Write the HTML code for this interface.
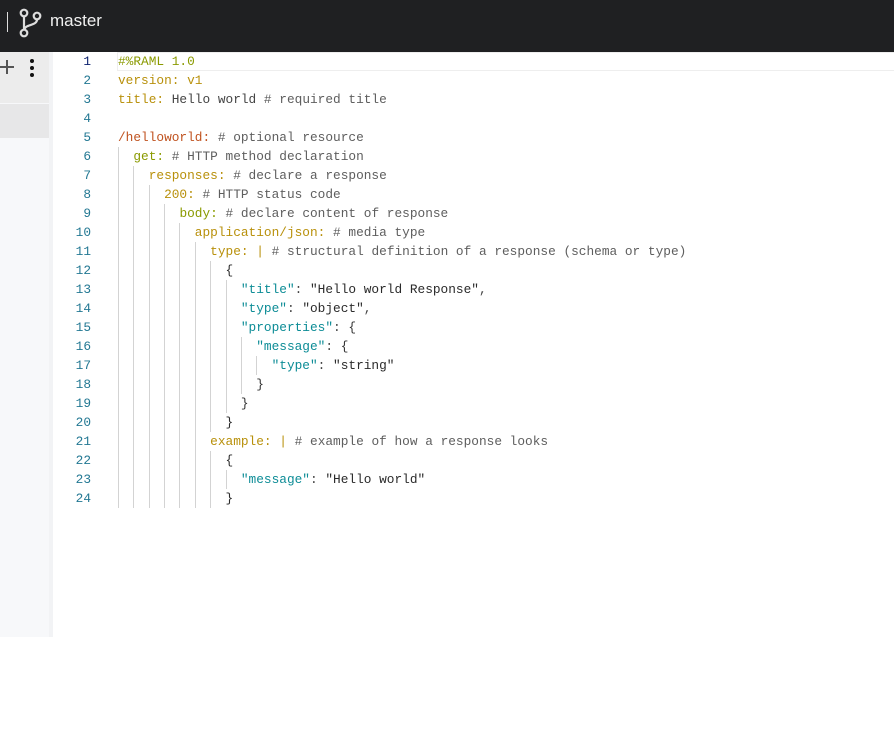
<!DOCTYPE html>
<html><head><meta charset="utf-8"><style>
body{margin:0;width:894px;height:637px;overflow:hidden;background:#fff;font-family:"Liberation Sans",sans-serif;position:relative}
.hdr{position:absolute;left:0;top:0;width:894px;height:52px;background:#1f2022}
.lp{position:absolute;left:0;top:52px;width:49px;height:585px;background:#f7f8fa}
.strip{position:absolute;left:49px;top:52px;width:4px;height:585px;background:#f2f3f5}
.code{position:absolute;left:0;top:51.5px;font-family:"Liberation Mono",monospace;font-size:12.8px;line-height:19px;white-space:pre;color:#444}
.ln{position:absolute;left:60px;width:31px;text-align:right;color:#237893}
.tx{position:absolute;left:118px}
.g{position:absolute;width:1px;background:#d3d3d3}
.k{color:#b8900b}.c{color:#5e5e5e}.r{color:#c05320}.o{color:#8a9a00}.j{color:#0c8c96}.s{color:#2a2a2a}.p{color:#333}
</style></head><body>
<div class="hdr">
<div style="position:absolute;left:7px;top:12px;width:1px;height:20px;background:#ddd"></div>
<svg style="position:absolute;left:19px;top:8px" width="24" height="30" viewBox="0 0 24 30"><g fill="none" stroke="#ddd" stroke-width="2.2"><circle cx="5" cy="5" r="3.3"/><circle cx="5" cy="25" r="3.3"/><circle cx="18" cy="8" r="3.3"/><path d="M5 8.5V21.5M18 11.5C18 18 6 16 5.5 21.5"/></g></svg>
<div style="position:absolute;left:50px;top:11px;color:#f0f0f0;font-size:17px">master</div>
</div>
<div class="lp"></div>
<div style="position:absolute;left:0;top:52px;width:49px;height:51px;background:#ececec"></div>
<div style="position:absolute;left:0;top:104px;width:49px;height:34px;background:#e7e7e8"></div>
<div style="position:absolute;left:0;top:66px;width:14px;height:2px;background:#555"></div>
<div style="position:absolute;left:6px;top:60px;width:2px;height:14px;background:#555"></div>
<div style="position:absolute;left:30px;top:66px;width:4px;height:4px;border-radius:2px;background:#111;box-shadow:0 -7px 0 #111,0 7px 0 #111"></div>
<div class="strip"></div>
<div style="position:absolute;left:117px;top:52px;width:777px;height:17px;border:1px solid #eee;border-right:none"></div>
<div class="code">
<div class="ln" style="top:0;color:#0b216f">1</div><div class="ln" style="top:19px">2</div><div class="ln" style="top:38px">3</div><div class="ln" style="top:57px">4</div><div class="ln" style="top:76px">5</div><div class="ln" style="top:95px">6</div><div class="ln" style="top:114px">7</div><div class="ln" style="top:133px">8</div><div class="ln" style="top:152px">9</div><div class="ln" style="top:171px">10</div><div class="ln" style="top:190px">11</div><div class="ln" style="top:209px">12</div><div class="ln" style="top:228px">13</div><div class="ln" style="top:247px">14</div><div class="ln" style="top:266px">15</div><div class="ln" style="top:285px">16</div><div class="ln" style="top:304px">17</div><div class="ln" style="top:323px">18</div><div class="ln" style="top:342px">19</div><div class="ln" style="top:361px">20</div><div class="ln" style="top:380px">21</div><div class="ln" style="top:399px">22</div><div class="ln" style="top:418px">23</div><div class="ln" style="top:437px">24</div>
<div class="g" style="left:118px;top:95px;height:361px"></div>
<div class="g" style="left:133.4px;top:114px;height:342px"></div>
<div class="g" style="left:148.7px;top:133px;height:323px"></div>
<div class="g" style="left:164.1px;top:152px;height:304px"></div>
<div class="g" style="left:179.4px;top:171px;height:285px"></div>
<div class="g" style="left:194.8px;top:190px;height:266px"></div>
<div class="g" style="left:210.2px;top:209px;height:171px"></div>
<div class="g" style="left:210.2px;top:399px;height:57px"></div>
<div class="g" style="left:225.5px;top:228px;height:133px"></div>
<div class="g" style="left:225.5px;top:418px;height:19px"></div>
<div class="g" style="left:240.9px;top:285px;height:57px"></div>
<div class="g" style="left:256.2px;top:304px;height:19px"></div>
<div class="tx" style="top:0"><span class="o">#%RAML 1.0</span></div>
<div class="tx" style="top:19px"><span class="k">version: v1</span></div>
<div class="tx" style="top:38px"><span class="k">title:</span> Hello world <span class="c"># required title</span></div>
<div class="tx" style="top:76px"><span class="r">/helloworld:</span> <span class="c"># optional resource</span></div>
<div class="tx" style="top:95px">  <span class="o">get:</span> <span class="c"># HTTP method declaration</span></div>
<div class="tx" style="top:114px">    <span class="k">responses:</span> <span class="c"># declare a response</span></div>
<div class="tx" style="top:133px">      <span class="k">200:</span> <span class="c"># HTTP status code</span></div>
<div class="tx" style="top:152px">        <span class="o">body:</span> <span class="c"># declare content of response</span></div>
<div class="tx" style="top:171px">          <span class="k">application/json:</span> <span class="c"># media type</span></div>
<div class="tx" style="top:190px">            <span class="k">type:</span> <span class="k">|</span> <span class="c"># structural definition of a response (schema or type)</span></div>
<div class="tx" style="top:209px">              <span class="s">{</span></div>
<div class="tx" style="top:228px">                <span class="j">"title"</span>: <span class="s">"Hello world Response"</span>,</div>
<div class="tx" style="top:247px">                <span class="j">"type"</span>: <span class="s">"object"</span>,</div>
<div class="tx" style="top:266px">                <span class="j">"properties"</span>: <span class="p">{</span></div>
<div class="tx" style="top:285px">                  <span class="j">"message"</span>: <span class="p">{</span></div>
<div class="tx" style="top:304px">                    <span class="j">"type"</span>: <span class="s">"string"</span></div>
<div class="tx" style="top:323px">                  <span class="p">}</span></div>
<div class="tx" style="top:342px">                <span class="p">}</span></div>
<div class="tx" style="top:361px">              <span class="s">}</span></div>
<div class="tx" style="top:380px">            <span class="k">example:</span> <span class="k">|</span> <span class="c"># example of how a response looks</span></div>
<div class="tx" style="top:399px">              <span class="s">{</span></div>
<div class="tx" style="top:418px">                <span class="j">"message"</span>: <span class="s">"Hello world"</span></div>
<div class="tx" style="top:437px">              <span class="s">}</span></div>
</div>
</body></html>
